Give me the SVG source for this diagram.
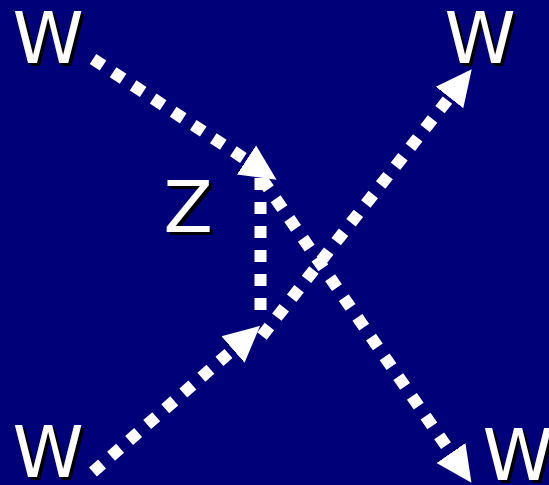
<svg xmlns="http://www.w3.org/2000/svg" width="549" height="485" viewBox="0 0 549 485">
<defs>
<style>
.lbl{font-family:"DejaVu Sans",sans-serif;font-size:72px}
.sh{fill:#000000}
.fg{fill:#ffffff}
.edge{stroke:#ffffff;stroke-width:12;stroke-dasharray:12 12;fill:none}
</style>
<marker id="ah" markerUnits="userSpaceOnUse" markerWidth="40" markerHeight="40" refX="0" refY="17.5" orient="auto" viewBox="0 0 40 35">
<path d="M0,0 L36,17.5 L0,35 Z" fill="#ffffff"/>
</marker>
</defs>
<rect width="549" height="485" fill="#000078"/>
<g id="connectors">
<path class="edge" d="M93,59 L246.5,160" marker-end="url(#ah)"/>
<path class="edge" d="M262,179 L451,453" marker-end="url(#ah)"/>
<path class="edge" d="M260.5,178 L260.5,316"/>
<path class="edge" d="M93,472 L233,349.5" marker-end="url(#ah)"/>
<path class="edge" d="M262,336 L449.5,97.5" marker-end="url(#ah)"/>
</g>
<g id="w-top-left">
<text class="lbl sh" x="15.6" y="66">W</text>
<text class="lbl fg" x="12.6" y="63">W</text>
</g>
<g id="w-top-right">
<text class="lbl sh" x="447.6" y="66">W</text>
<text class="lbl fg" x="444.6" y="63">W</text>
</g>
<g id="w-bottom-left">
<text class="lbl sh" x="15.6" y="480">W</text>
<text class="lbl fg" x="12.6" y="477">W</text>
</g>
<g id="w-bottom-right">
<text class="lbl sh" x="485.6" y="483">W</text>
<text class="lbl fg" x="482.6" y="480">W</text>
</g>
<g id="z">
<text class="lbl sh" x="166.4" y="235">Z</text>
<text class="lbl fg" x="163.4" y="232">Z</text>
</g>
</svg>
